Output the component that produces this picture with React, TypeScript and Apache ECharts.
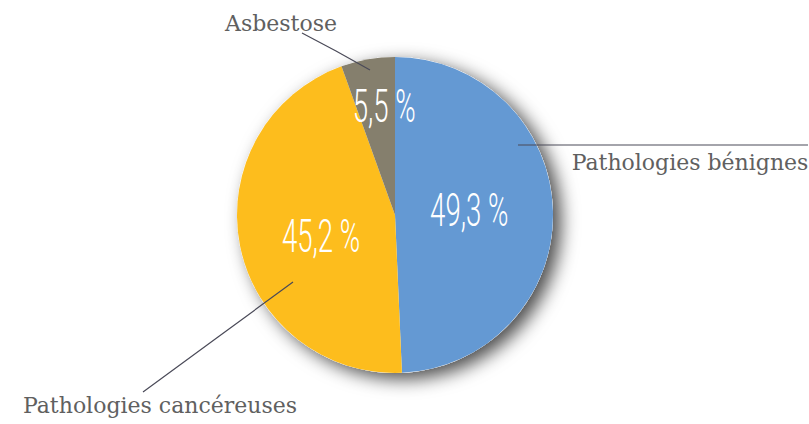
import React, { useEffect, useRef } from "react";
import * as echarts from "echarts";

const categories = ["Pathologies bénignes", "Pathologies cancéreuses", "Asbestose"];
const values = [49.3, 45.2, 5.5];
const valueLabels = ["49,3 %", "45,2 %", "5,5 %"];
const colors = ["#6499d3", "#fdbd1d", "#857f6d"];

const CX = 395;
const CY = 215;
const R = 158;
// inner label radial distance (fraction of R) and pixel nudge
const innerLabelR = [0.47, 0.49, 0.69];
const innerLabelNudge = [[0, -3], [2, 6], [8, -1]];
// external label placements and leader lines
const outerLabelPos = [[690, 162], [160, 405], [281, 23]];
const outerLinePts = [
  [[518, 145], [663, 145], [808, 145]],
  [[293, 282], [218, 337], [143, 392]],
  [[370, 70], [336, 51], [302, 33]],
];

export default function App() {
  const ref = useRef<HTMLDivElement>(null);
  useEffect(() => {
    if (!ref.current) return;
    const chart = echarts.init(ref.current, null, { renderer: "svg" });
    const total = values.reduce((a, b) => a + b, 0);
    let acc = 0;
    const innerTexts = values.map((v, i) => {
      const mid = ((acc + v / 2) / total) * 2 * Math.PI;
      acc += v;
      const r = innerLabelR[i] * R;
      const x = CX + Math.sin(mid) * r + innerLabelNudge[i][0];
      const y = CY - Math.cos(mid) * r + innerLabelNudge[i][1];
      return {
        type: "text",
        x,
        y,
        scaleX: 0.6,
        z: 100,
        silent: true,
        style: {
          text: valueLabels[i],
          fill: "#ffffff",
          fontSize: 46,
          fontFamily: "Roboto, 'Liberation Sans Narrow', sans-serif",
          fontWeight: 300,
          textAlign: "center",
          textVerticalAlign: "middle",
        },
      };
    });
    const data = categories.map((c, i) => ({ name: c, value: values[i], itemStyle: { color: colors[i] } }));
    chart.setOption({
      animation: false,
      series: [
        {
          type: "pie",
          silent: true,
          center: [CX, CY],
          radius: [0, R],
          label: { show: false },
          labelLine: { show: false },
          data: [{ value: 1, name: "", itemStyle: { color: "#ffffff" } }],
          itemStyle: {
            shadowBlur: 18,
            shadowOffsetX: 8,
            shadowOffsetY: 6,
            shadowColor: "rgba(0,0,0,0.7)",
          },
          z: 1,
        },
        {
          type: "pie",
          silent: true,
          center: [CX, CY],
          radius: [0, R],
          startAngle: 90,
          clockwise: true,
          label: { show: false },
          labelLine: { show: false },
          itemStyle: { borderWidth: 0 },
          data,
          z: 2,
        },
        {
          type: "pie",
          silent: true,
          center: [CX, CY],
          radius: [0, R],
          startAngle: 90,
          clockwise: true,
          itemStyle: { color: "rgba(0,0,0,0)", borderWidth: 0 },
          label: {
            show: true,
            position: "outside",
            formatter: "{b}",
            color: "#606060",
            fontSize: 22,
            fontFamily: "'DejaVu Serif', serif",
            overflow: "none",
            width: 400,
          },
          labelLine: {
            show: true,
            length: 10,
            length2: 10,
            lineStyle: { color: "#4a4a58", width: 1.2 },
          },
          labelLayout: (params: any) => {
            const i = params.dataIndex;
            return {
              x: outerLabelPos[i][0],
              y: outerLabelPos[i][1],
              align: "center",
              verticalAlign: "middle",
              labelLinePoints: outerLinePts[i],
            };
          },
          data: categories.map((c, i) => ({ name: c, value: values[i] })),
          z: 3,
        },
      ],
      graphic: innerTexts,
    });
    return () => chart.dispose();
  }, []);
  return (
    <div
      ref={ref}
      style={{ position: "absolute", left: 0, top: 0, width: 809, height: 424 }}
    />
  );
}
